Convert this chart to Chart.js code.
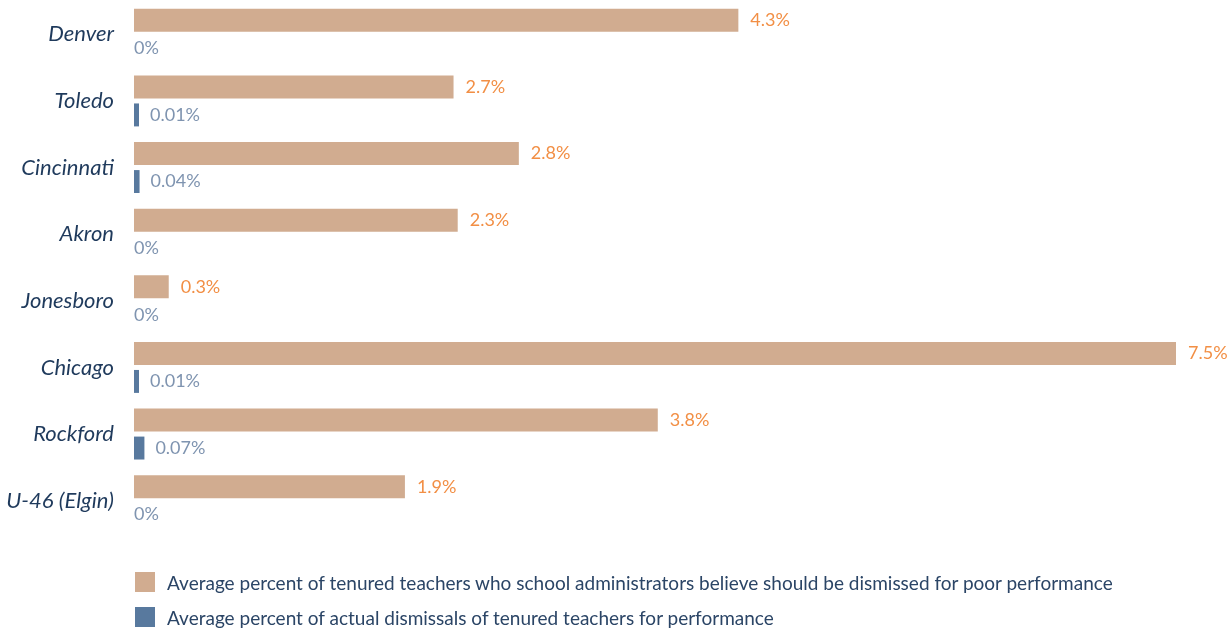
<!DOCTYPE html>
<html>
<head>
<meta charset="utf-8">
<script src="https://cdn.jsdelivr.net/npm/chart.js@4"></script>
<style>
    body { margin: 0; background: #fff; font-family: Lato, sans-serif; }
    #wrap { position: relative; width: 1232px; height: 632px; }
    canvas { display: block; }
    .leg { position: absolute; left: 135px; height: 20px; display: flex; align-items: center; font-size: 19px; color: #2b4566; white-space: nowrap; }
    .leg span { display: inline-block; width: 20px; height: 20px; margin-right: 12px; }
</style>
</head>
<body>
<div id="wrap">
    <canvas id="grafico" width="1232" height="632"></canvas>
    <div class="leg" style="top:572px"><span style="background:#d1ac90"></span>Average percent of tenured teachers who school administrators believe should be dismissed for poor performance</div>
    <div class="leg" style="top:607px"><span style="background:#58799e"></span>Average percent of actual dismissals of tenured teachers for performance</div>
</div>
<script>
// dados
const cidades = ['Denver', 'Toledo', 'Cincinnati', 'Akron', 'Jonesboro', 'Chicago', 'Rockford', 'U-46 (Elgin)'];
const valoresAcreditam = [4.35, 2.3, 2.77, 2.33, 0.25, 7.5, 3.77, 1.95];
const rotulosAcreditam = ['4.3%', '2.7%', '2.8%', '2.3%', '0.3%', '7.5%', '3.8%', '1.9%'];
const valoresDemissoes = [0, 0.036, 0.04, 0, 0, 0.036, 0.075, 0];
const rotulosDemissoes = ['0%', '0.01%', '0.04%', '0%', '0%', '0.01%', '0.07%', '0%'];

// escreve os rótulos ao lado das barras
const rotulosPlugin = {
    id: 'rotulos',
    afterDatasetsDraw(chart) {
        const ctx = chart.ctx;
        ctx.save();
        ctx.font = '18px Lato';
        ctx.textBaseline = 'middle';
        ctx.textAlign = 'left';
        chart.getDatasetMeta(0).data.forEach((bar, i) => {
            ctx.fillStyle = '#f28f45';
            ctx.fillText(rotulosAcreditam[i], bar.x + 12, bar.y);
        });
        chart.getDatasetMeta(1).data.forEach((bar, i) => {
            ctx.fillStyle = '#7f94b0';
            const dx = valoresDemissoes[i] > 0 ? 11 : 0;
            ctx.fillText(rotulosDemissoes[i], bar.x + dx, bar.y);
        });
        ctx.restore();
    }
};

const ctx = document.getElementById('grafico').getContext('2d');
new Chart(ctx, {
    type: 'bar',
    data: {
        labels: cidades,
        datasets: [{
            label: 'Average percent of tenured teachers who school administrators believe should be dismissed for poor performance',
            data: valoresAcreditam,
            backgroundColor: '#d1ac90',
            categoryPercentage: 0.84,
            barPercentage: 0.82
        },
        {
            label: 'Average percent of actual dismissals of tenured teachers for performance',
            data: valoresDemissoes,
            backgroundColor: '#58799e',
            categoryPercentage: 0.84,
            barPercentage: 0.82
        }]
    },
    options: {
        indexAxis: 'y',
        responsive: false,
        animation: false,
        layout: { padding: { top: 1, right: 56, bottom: 98, left: 0 } },
        scales: {
            x: {
                display: false,
                min: 0, max: 7.5
            },
            y: {
                ticks: { font: { family: 'Lato', size: 22, style: 'italic' }, color: '#1f3a5c', padding: 20 },
                grid: { display: false, drawTicks: false },
                border: { display: false },
                afterFit: (s) => { s.width = 134; s.paddingTop = 0; s.paddingBottom = 0; }
            }
        },
        plugins: { legend: { display: false }, tooltip: { enabled: false } }
    },
    plugins: [rotulosPlugin]
});
</script>
</body>
</html>
